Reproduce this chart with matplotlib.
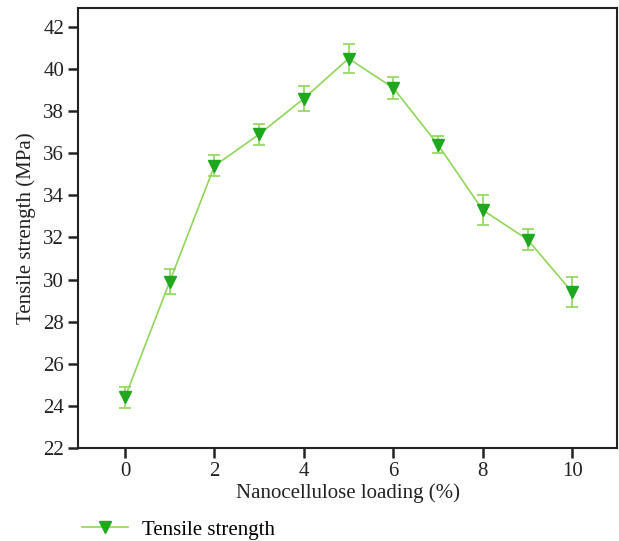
import matplotlib
matplotlib.use("Agg")
import matplotlib.pyplot as plt
from matplotlib.lines import Line2D

# values
loading = [0, 1, 2, 3, 4, 5, 6, 7, 8, 9, 10]
strength = [24.4, 29.9, 35.4, 36.9, 38.6, 40.5, 39.1, 36.4, 33.3, 31.9, 29.4]
strength_err = [0.5, 0.6, 0.5, 0.5, 0.6, 0.7, 0.5, 0.4, 0.7, 0.5, 0.7]

plt.rcParams['font.family'] = ['Liberation Serif', 'DejaVu Serif']
plt.rcParams['font.size'] = 15

fig = plt.figure(figsize=(6.19, 5.41), dpi=100)
ax = fig.add_axes([78/619, 1 - 448/541, (617-78)/619, (448-8)/541])

line_col = '#8fd65a'
mark_col = '#1fa81f'
text_col = '#222222'

ax.errorbar(loading, strength, yerr=strength_err, color=line_col, lw=1.2,
            marker='v', markersize=9, markerfacecolor=mark_col, markeredgecolor=mark_col,
            ecolor=line_col, elinewidth=1.2, capsize=4, capthick=1.2)

ax.set_xlim(-1.05, 11.0)
ax.set_ylim(22, 42.9)
ax.set_xticks(range(0, 11, 2))
ax.set_yticks(range(22, 43, 2))
ax.tick_params(direction='out', length=7, width=1.8, colors=text_col, pad=3)
for s in ax.spines.values():
    s.set_linewidth(1.5)
    s.set_color(text_col)

ax.set_xlabel("Nanocellulose loading (%)", color=text_col, labelpad=2)
ax.set_ylabel("Tensile strength (MPa)", color=text_col, labelpad=5)

handle = Line2D([], [], color=line_col, lw=1.2, marker='v', markersize=9,
                markerfacecolor=mark_col, markeredgecolor=mark_col)
fig.legend([handle], ['Tensile strength'], loc='lower left', bbox_to_anchor=(0.102, -0.032),
           frameon=False, handlelength=2.2, handletextpad=0.7)

fig.savefig("out.png", dpi=100)
